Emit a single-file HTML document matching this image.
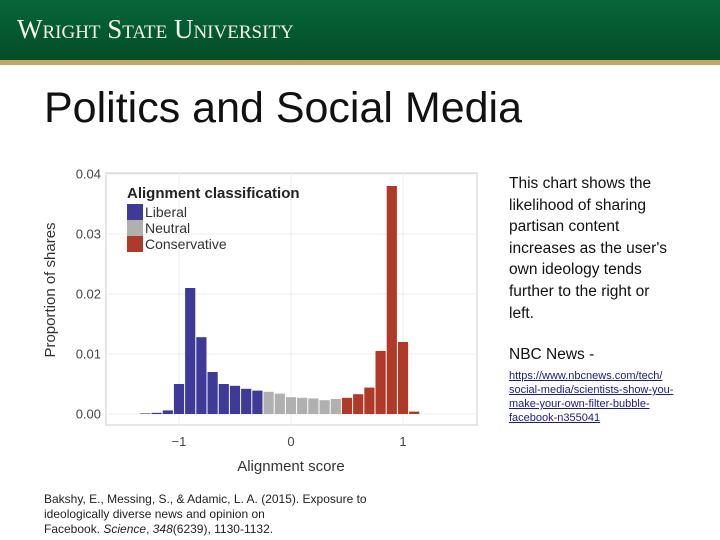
<!DOCTYPE html>
<html><head><meta charset="utf-8">
<style>
body{margin:0;width:720px;height:540px;background:#fff;position:relative;overflow:hidden;font-family:"Liberation Sans",sans-serif}
.abs{position:absolute}
</style></head><body>
<div class="abs" style="left:0;top:0;width:720px;height:60px;background:linear-gradient(#06663a,#034d28)"></div>
<div class="abs" style="left:0;top:60px;width:720px;height:5px;background:#c4a466"></div>
<div class="abs" style="left:17px;top:14px;color:#f2f2ea;font-family:'Liberation Serif',serif;font-size:27px;letter-spacing:0px;font-variant:small-caps;white-space:nowrap">Wright State University</div>
<div class="abs" style="left:44px;top:84px;font-size:43px;color:#111;white-space:nowrap">Politics and Social Media</div>

<svg class="abs" style="left:0;top:0" width="720" height="540" id="chart"></svg>

<div class="abs" style="left:509px;top:173px;width:205px;font-size:15.5px;line-height:21.6px;color:#111">This chart shows the<br>likelihood of sharing<br>partisan content<br>increases as the user's<br>own ideology tends<br>further to the right or<br>left.</div>
<div class="abs" style="left:509px;top:346px;font-size:15.5px;color:#111">NBC News -</div>
<a class="abs" style="left:509px;top:369px;width:180px;font-size:11px;line-height:14px;color:#1a1a8c;text-decoration:underline;white-space:nowrap">https://www.nbcnews.com/tech/<br>social-media/scientists-show-you-<br>make-your-own-filter-bubble-<br>facebook-n355041</a>
<div class="abs" style="left:44px;top:492px;font-size:12px;line-height:15px;color:#222">Bakshy, E., Messing, S., &amp; Adamic, L. A. (2015). Exposure to<br>ideologically diverse news and opinion on<br>Facebook. <i>Science</i>, <i>348</i>(6239), 1130-1132.</div>

<script>
const centers=[-1.3,-1.2,-1.1,-1.0,-0.9,-0.8,-0.7,-0.6,-0.5,-0.4,-0.3,-0.2,-0.1,0,0.1,0.2,0.3,0.4,0.5,0.6,0.7,0.8,0.9,1.0,1.1];
const values=[0.0001,0.0002,0.0006,0.005,0.021,0.0128,0.007,0.005,0.0047,0.0042,0.0039,0.0037,0.0034,0.0028,0.0027,0.0026,0.0023,0.0025,0.0027,0.0033,0.0044,0.0105,0.038,0.012,0.0004];
const classes=['L','L','L','L','L','L','L','L','L','L','L','N','N','N','N','N','N','N','C','C','C','C','C','C','C'];
const yTicks=[0,0.01,0.02,0.03,0.04];
const yTickLabels=['0.00','0.01','0.02','0.03','0.04'];
const xTicks=[-1,0,1];
const xTickLabels=['\u22121','0','1'];
const legendLabels=['Liberal','Neutral','Conservative'];
const colors={L:'#3e3a98',N:'#b0b0b0',C:'#b03a2a'};
const svg=document.getElementById('chart');const NS='http://www.w3.org/2000/svg';
const X=v=>291+v*112, Y=v=>414-v*6000;
function mk(t,a,txt){const e=document.createElementNS(NS,t);for(const k in a)e.setAttribute(k,a[k]);if(txt!=null)e.textContent=txt;svg.appendChild(e);return e;}
let e=mk('rect',{x:106,y:173,width:371,height:252,fill:'#fff',stroke:'#ccc'});


yTicks.forEach((t,i)=>{
 e=mk('line',{x1:106,x2:477,y1:Y(t),y2:Y(t),stroke:'#eee'});
 
 
 e=mk('text',{x:101,y:Y(t)+4.5,'text-anchor':'end','font-size':13,fill:'#444'},yTickLabels[i]);
 
 
});
xTicks.forEach((t,i)=>{
 e=mk('line',{x1:X(t),x2:X(t),y1:173,y2:425,stroke:'#eee'});
 
 
 e=mk('text',{x:X(t),y:446,'text-anchor':'middle','font-size':13,fill:'#444'},xTickLabels[i]);
 
 
});
centers.forEach((c,i)=>{
 const h=414-Y(values[i]);
 e=mk('rect',{x:X(c-0.05)+0.5,y:Y(values[i]),width:10.2,height:h,fill:colors[classes[i]]});
 
 
});
e=mk('text',{x:291,y:471,'text-anchor':'middle','font-size':15,fill:'#333'},'Alignment score');


e=mk('text',{x:0,y:0,'text-anchor':'middle','font-size':15,fill:'#333',transform:'translate(55,290) rotate(-90)'},'Proportion of shares');


e=mk('text',{x:127,y:198,'font-size':15,'font-weight':'bold',fill:'#222'},'Alignment classification');


['L','N','C'].forEach((k,i)=>{
 e=mk('rect',{x:127,y:204+i*16,width:16,height:16,fill:colors[k]});
 
 
 e=mk('text',{x:145,y:217+i*16,'font-size':14,fill:'#333'},legendLabels[i]);
 
 
});
</script>
</body></html>
